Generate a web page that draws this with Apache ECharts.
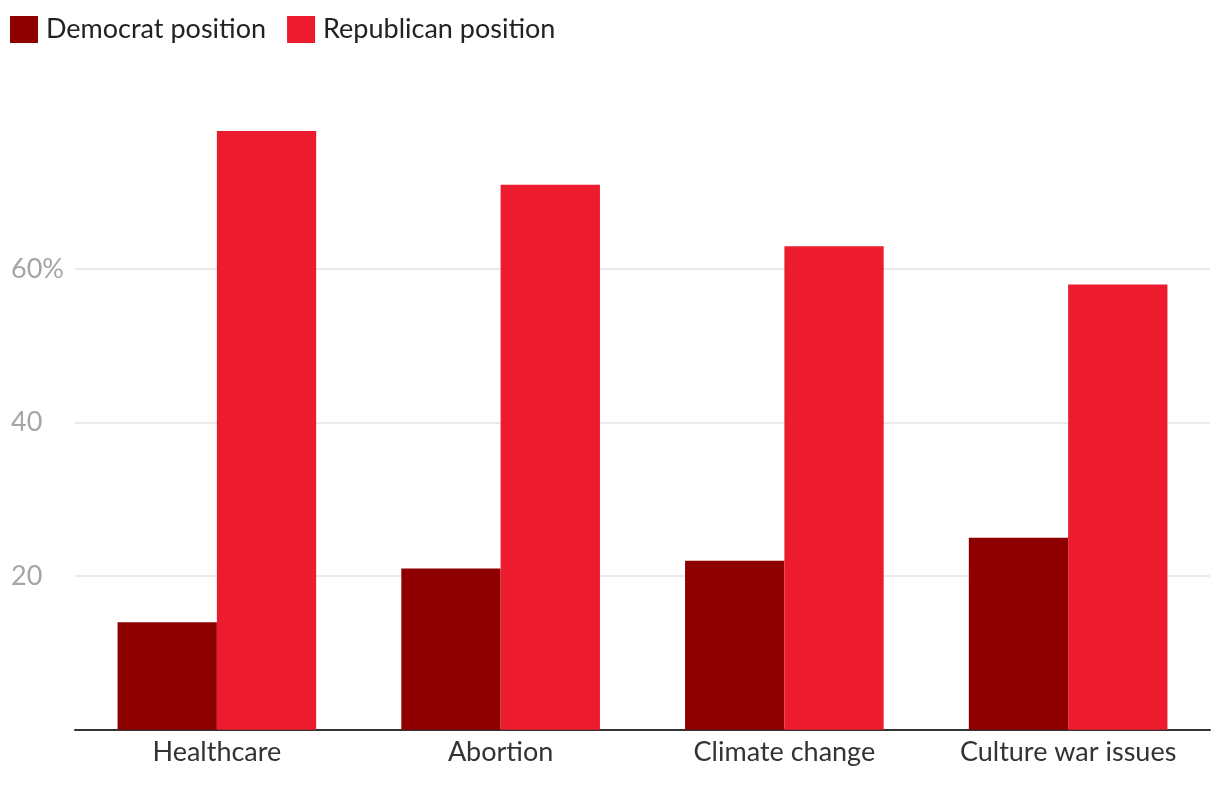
<!DOCTYPE html>
<html><head><meta charset="utf-8">
<script src="https://cdn.jsdelivr.net/npm/echarts@6/dist/echarts.min.js"></script>
<style>html,body{margin:0;padding:0;background:#fff}#c{width:1220px;height:788px}</style>
</head><body><div id="c"></div>
<script>
const categories = ['Healthcare', 'Abortion', 'Climate change', 'Culture war issues'];
const democrat = [14, 21, 22, 25];
const republican = [78, 71, 63, 58];
const seriesNames = ['Democrat position', 'Republican position'];

const chart = echarts.init(document.getElementById('c'));
chart.setOption({
  animation: false,
  textStyle: { fontFamily: 'Lato' },
  legend: {
    left: 10, top: 16, padding: 0, itemWidth: 28, itemHeight: 27, itemGap: 21,
    icon: 'rect',
    textStyle: { fontSize: 27, color: '#222', fontFamily: 'Lato', padding: [0, 0, 0, 3] },
    data: seriesNames
  },
  grid: { left: 75, right: 10, top: 115.7, bottom: 58.3, containLabel: false },
  xAxis: {
    type: 'category', data: categories,
    axisLine: { lineStyle: { color: '#333', width: 2 } },
    axisTick: { show: false },
    axisLabel: { fontSize: 27, color: '#333', margin: 9, fontFamily: 'Lato' }
  },
  yAxis: {
    type: 'value', min: 0, max: 80, interval: 20,
    axisLine: { show: false }, axisTick: { show: false },
    splitLine: { showMaxLine: false, lineStyle: { color: '#e3e3e3', width: 1.5 } },
    axisLabel: {
      showMinLabel: false, showMaxLabel: false,
      fontSize: 27, color: '#a5a5a5', align: 'left', margin: 64, fontFamily: 'Lato',
      formatter: v => v === 60 ? v + '%' : String(v)
    }
  },
  series: [
    { name: seriesNames[0], type: 'bar', data: democrat, itemStyle: { color: '#8e0000' }, barGap: '0%', barCategoryGap: '30%' },
    { name: seriesNames[1], type: 'bar', data: republican, itemStyle: { color: '#ec1c2e' }, barGap: '0%', barCategoryGap: '30%' }
  ]
});
</script></body></html>
